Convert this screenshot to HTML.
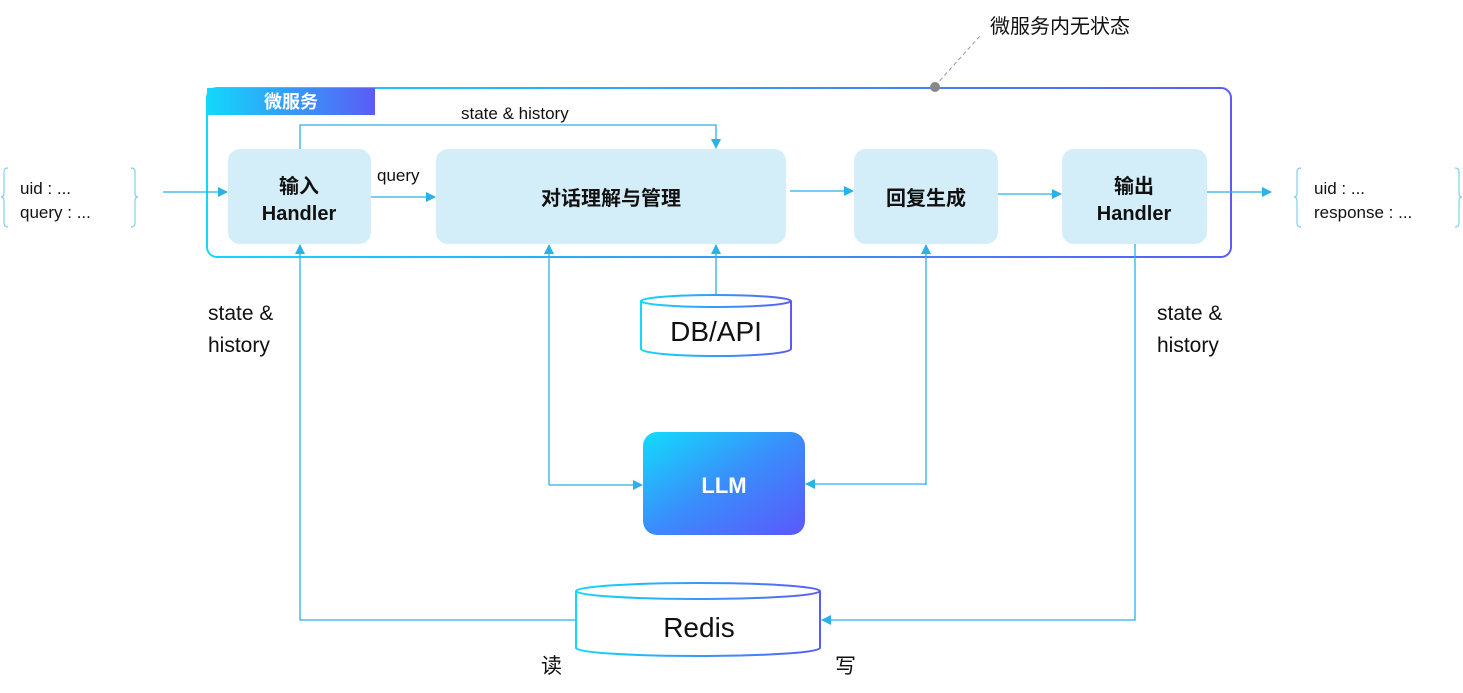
<!DOCTYPE html>
<html><head><meta charset="utf-8"><style>
html,body{margin:0;padding:0;background:#fff;}
svg{display:block;}
text{font-family:"Liberation Sans","Noto Sans CJK SC",sans-serif;}
</style></head><body>
<svg width="1463" height="693" viewBox="0 0 1463 693" xmlns="http://www.w3.org/2000/svg">
<defs>
<linearGradient id="g" x1="0" y1="0" x2="1" y2="0"><stop offset="0" stop-color="#12d8fa"/><stop offset="1" stop-color="#5a5cf6"/></linearGradient>
<linearGradient id="gd" x1="0" y1="0" x2="1" y2="1"><stop offset="0" stop-color="#12dcfb"/><stop offset="0.5" stop-color="#3a8dfb"/><stop offset="1" stop-color="#5b58fb"/></linearGradient>
<marker id="a" markerWidth="10" markerHeight="10" refX="9" refY="5" orient="auto" markerUnits="userSpaceOnUse"><path d="M0,0 L10,5 L0,10 z" fill="#29b1e8"/></marker>
</defs>
<!-- callout -->
<line x1="935" y1="86" x2="980" y2="36" stroke="#999" stroke-dasharray="4,3"/>
<text x="990" y="33" font-size="20" fill="#111">微服务内无状态</text>
<!-- outer box -->
<rect x="207" y="88" width="1024" height="169" rx="10" fill="none" stroke="url(#g)" stroke-width="2"/>
<circle cx="935" cy="87" r="5" fill="#888"/>
<rect x="207" y="88" width="168" height="27" fill="url(#g)"/>
<text x="291" y="108" font-size="18" font-weight="bold" fill="#fff" text-anchor="middle">微服务</text>
<!-- boxes -->
<g fill="#d4eef9">
<rect x="228" y="149" width="143" height="95" rx="12"/>
<rect x="436" y="149" width="350" height="95" rx="12"/>
<rect x="854" y="149" width="144" height="95" rx="12"/>
<rect x="1062" y="149" width="145" height="95" rx="12"/>
</g>
<g font-size="20" font-weight="bold" fill="#111" text-anchor="middle">
<text x="299" y="193">输入</text><text x="299" y="220">Handler</text>
<text x="611" y="205">对话理解与管理</text>
<text x="926" y="205">回复生成</text>
<text x="1134" y="193">输出</text><text x="1134" y="220">Handler</text>
</g>
<!-- connectors -->
<g stroke="#29b1e8" stroke-width="1.3" fill="none">
<line x1="163" y1="192" x2="227" y2="192" marker-end="url(#a)"/>
<line x1="371" y1="197" x2="435" y2="197" marker-end="url(#a)"/>
<polyline points="300,149 300,125 716,125 716,148" marker-end="url(#a)"/>
<line x1="790" y1="191" x2="853" y2="191" marker-end="url(#a)"/>
<line x1="998" y1="194" x2="1061" y2="194" marker-end="url(#a)"/>
<line x1="1207" y1="192" x2="1271" y2="192" marker-end="url(#a)"/>
<polyline points="575,620 300,620 300,245" marker-end="url(#a)"/>
<line x1="549" y1="485" x2="549" y2="245" marker-end="url(#a)"/>
<polyline points="549,485 642,485" marker-end="url(#a)"/>
<line x1="716" y1="295" x2="716" y2="245" marker-end="url(#a)"/>
<line x1="926" y1="485" x2="926" y2="245" marker-end="url(#a)"/>
<polyline points="926,484 806,484" marker-end="url(#a)"/>
<polyline points="1135,244 1135,620 822,620" marker-end="url(#a)"/>
</g>
<!-- braces -->
<g stroke="#7fd0f0" stroke-width="1.2" fill="none">
<path d="M8,168 Q4,168 4,172 L4,193 Q4,197 1,197 Q4,197 4,201 L4,223 Q4,227 8,227"/>
<path d="M131,168 Q135,168 135,172 L135,193 Q135,197 138,197 Q135,197 135,201 L135,223 Q135,227 131,227"/>
<path d="M1301,168 Q1297,168 1297,172 L1297,193 Q1297,197 1294,197 Q1297,197 1297,201 L1297,223 Q1297,227 1301,227"/>
<path d="M1455,168 Q1459,168 1459,172 L1459,193 Q1459,197 1462,197 Q1459,197 1459,201 L1459,223 Q1459,227 1455,227"/>
</g>
<g font-size="17" fill="#111">
<text x="20" y="194">uid : ...</text><text x="20" y="218">query : ...</text>
<text x="1314" y="194">uid : ...</text><text x="1314" y="218">response : ...</text>
<text x="377" y="181">query</text>
<text x="461" y="119">state &amp; history</text>
</g>
<g font-size="21" fill="#111">
<text x="208" y="320">state &amp;</text><text x="208" y="352">history</text>
<text x="1157" y="320">state &amp;</text><text x="1157" y="352">history</text>
<text x="541" y="673">读</text><text x="835" y="673">写</text>
</g>
<!-- DB/API -->
<path d="M641,301 L641,349 A75,7 0 0 0 791,349 L791,301" fill="#fff" stroke="url(#g)" stroke-width="2"/>
<ellipse cx="716" cy="301" rx="75" ry="6" fill="#fff" stroke="url(#g)" stroke-width="2"/>
<text x="716" y="341" font-size="28" fill="#111" text-anchor="middle">DB/API</text>
<!-- LLM -->
<rect x="643" y="432" width="162" height="103" rx="14" fill="url(#gd)"/>
<text x="724" y="493" font-size="22" font-weight="bold" fill="#fff" text-anchor="middle">LLM</text>
<!-- Redis -->
<path d="M576,591 L576,648 A122,8 0 0 0 820,648 L820,591" fill="#fff" stroke="url(#g)" stroke-width="2"/>
<ellipse cx="698" cy="591" rx="122" ry="8" fill="#fff" stroke="url(#g)" stroke-width="2"/>
<text x="699" y="637" font-size="28" fill="#111" text-anchor="middle">Redis</text>
</svg>
</body></html>
